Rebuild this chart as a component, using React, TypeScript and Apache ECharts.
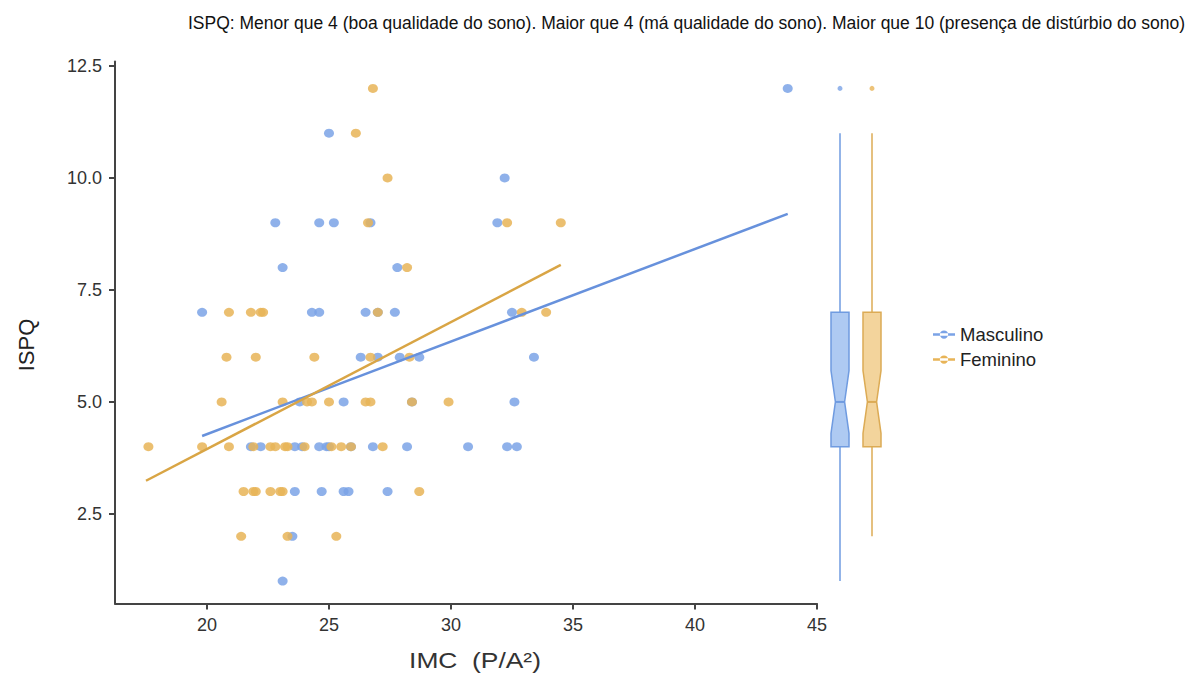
import React, { useEffect, useRef } from "react";
import * as echarts from "echarts";

const TITLE =
  "ISPQ: Menor que 4 (boa qualidade do sono). Maior que 4 (má qualidade do sono). Maior que 10 (presença de distúrbio do sono)";
const X_NAME = "IMC  (P/A²)";
const Y_NAME = "ISPQ";
const GROUPS = ["Masculino", "Feminino"];
const X_TICKS = [20, 25, 30, 35, 40, 45];
const Y_TICKS = [2.5, 5, 7.5, 10, 12.5];

// [IMC, ISPQ]
const masculino: number[][] = [
  [43.8, 12],
  [25.0, 11],
  [32.2, 10],
  [22.8, 9], [24.6, 9], [25.2, 9], [26.7, 9], [31.9, 9],
  [23.1, 8], [27.8, 8],
  [19.8, 7], [24.3, 7], [24.6, 7], [26.5, 7], [27.0, 7], [27.7, 7], [32.5, 7],
  [26.3, 6], [27.0, 6], [27.9, 6], [28.7, 6], [33.4, 6],
  [23.8, 5], [25.6, 5], [28.4, 5], [32.6, 5],
  [21.8, 4], [22.2, 4], [23.6, 4], [23.9, 4], [24.6, 4], [24.9, 4], [25.0, 4], [25.9, 4], [26.8, 4], [28.2, 4], [30.7, 4], [32.3, 4], [32.7, 4],
  [23.6, 3], [24.7, 3], [25.6, 3], [25.8, 3], [27.4, 3],
  [23.5, 2],
  [23.1, 1],
];

const feminino: number[][] = [
  [26.8, 12],
  [26.1, 11],
  [27.4, 10],
  [26.6, 9], [32.3, 9], [34.5, 9],
  [28.2, 8],
  [20.9, 7], [21.8, 7], [22.2, 7], [22.3, 7], [27.0, 7], [32.9, 7], [33.9, 7],
  [20.8, 6], [22.0, 6], [24.4, 6], [26.7, 6], [28.3, 6],
  [20.6, 5], [23.1, 5], [24.1, 5], [24.3, 5], [25.0, 5], [26.5, 5], [26.7, 5], [28.4, 5], [29.9, 5],
  [17.6, 4], [19.8, 4], [20.9, 4], [21.9, 4], [22.6, 4], [22.8, 4], [23.2, 4], [23.3, 4], [24.0, 4], [25.1, 4], [25.5, 4], [25.9, 4], [27.2, 4],
  [21.5, 3], [21.9, 3], [22.0, 3], [22.6, 3], [23.0, 3], [23.1, 3], [28.7, 3],
  [21.4, 2], [23.3, 2], [25.3, 2],
];

// regression line end points [IMC, ISPQ]
const mascTrend = [[19.8, 4.24], [43.8, 9.2]];
const femTrend = [[17.5, 3.24], [34.5, 8.06]];

// box stats: [min, Q1, median, Q3, max, notchLow, notchHigh]
const mascBox = [1, 4, 5, 7, 11, 4.3, 5.7];
const femBox = [2, 4, 5, 7, 11, 4.3, 5.7];
const mascOutliers = [12];
const femOutliers = [12];

const BLUE = "#7ba3e6";
const ORANGE = "#e8b457";
const BLUE_LINE = "#6791dc";
const ORANGE_LINE = "#d9a545";
const BLUE_FILL = "#aecaf2";
const ORANGE_FILL = "#f3d49c";
const BLUE_STROKE = "#6f9be0";
const ORANGE_STROKE = "#dcab55";

const FONT = "'Liberation Sans', Arial, sans-serif";

function boxRender(fill: string, stroke: string) {
  return (params: any, api: any) => {
    const cat = api.value(0);
    const mn = api.value(1), q1 = api.value(2), md = api.value(3), q3 = api.value(4), mx = api.value(5);
    const nLo = api.value(6), nHi = api.value(7);
    const c = api.coord([cat, md])[0];
    const y = (v: number) => api.coord([cat, v])[1];
    const w = 9;
    const n = 4.6;
    return {
      type: "group",
      children: [
        { type: "line", shape: { x1: c, y1: y(mx), x2: c, y2: y(q3) }, style: { stroke, lineWidth: 1.5 } },
        { type: "line", shape: { x1: c, y1: y(q1), x2: c, y2: y(mn) }, style: { stroke, lineWidth: 1.5 } },
        {
          type: "polygon",
          shape: {
            points: [
              [c - w, y(q3)], [c + w, y(q3)], [c + w, y(nHi)], [c + n, y(md)], [c + w, y(nLo)],
              [c + w, y(q1)], [c - w, y(q1)], [c - w, y(nLo)], [c - n, y(md)], [c - w, y(nHi)],
            ],
          },
          style: { fill, stroke, lineWidth: 1.5 },
        },
        { type: "line", shape: { x1: c - n, y1: y(md), x2: c + n, y2: y(md) }, style: { stroke, lineWidth: 2 } },
      ],
    };
  };
}

export default function App() {
  const ref = useRef<HTMLDivElement>(null);
  useEffect(() => {
    if (!ref.current) return;
    const chart = echarts.init(ref.current, undefined, { renderer: "svg" });
    const legendIcon = "path://M0,3.6H24V6.4H0Z M7.5,5A4.5,4.5 0 1,0 16.5,5A4.5,4.5 0 1,0 7.5,5Z";
    chart.setOption({
      animation: false,
      backgroundColor: "#ffffff",
      title: {
        text: TITLE,
        left: 183,
        top: 9,
        textStyle: { fontFamily: FONT, fontSize: 17.5, fontWeight: "normal", color: "#111" },
      },
      legend: {
        data: GROUPS,
        orient: "vertical",
        left: 928,
        top: 320,
        itemWidth: 22,
        itemHeight: 10,
        itemGap: 6,
        icon: legendIcon,
        itemStyle: { opacity: 1 },
        textStyle: { fontFamily: FONT, fontSize: 18.5, color: "#222" },
      },
      graphic: [
        {
          type: "text",
          x: 475,
          y: 660,
          scaleX: 1.2,
          style: {
            text: X_NAME,
            align: "center",
            verticalAlign: "middle",
            fontFamily: FONT,
            fontSize: 22,
            fill: "#333",
          },
        },
        {
          type: "text",
          x: 26,
          y: 345,
          rotation: Math.PI / 2,
          style: {
            text: Y_NAME,
            align: "center",
            verticalAlign: "middle",
            fontFamily: FONT,
            fontSize: 22,
            fill: "#222",
          },
        },
      ],
      grid: [
        { left: 115, top: 61.5, width: 702, height: 542 },
        { left: 824, top: 61.5, width: 64, height: 542 },
      ],
      xAxis: [
        {
          type: "value",
          gridIndex: 0,
          min: 16.23,
          max: 45,
          axisLine: { show: true, lineStyle: { color: "#444", width: 2 } },
          axisTick: { show: true, length: 6, customValues: X_TICKS, lineStyle: { color: "#444", width: 2 } },
          axisLabel: {
            customValues: X_TICKS,
            fontFamily: FONT,
            fontSize: 18,
            color: "#333",
            margin: 12,
          },
          splitLine: { show: false },
        },
        {
          type: "category",
          gridIndex: 1,
          data: GROUPS,
          show: false,
        },
      ],
      yAxis: [
        {
          type: "value",
          gridIndex: 0,
          min: 0.5,
          max: 12.6,
          axisLine: { show: true, lineStyle: { color: "#444", width: 2 } },
          axisTick: { show: true, length: 6, customValues: Y_TICKS, lineStyle: { color: "#444", width: 2 } },
          axisLabel: {
            customValues: Y_TICKS,
            formatter: (v: number) => v.toFixed(1),
            fontFamily: FONT,
            fontSize: 18,
            color: "#333",
            margin: 13,
          },
          splitLine: { show: false },
        },
        {
          type: "value",
          gridIndex: 1,
          min: 0.5,
          max: 12.6,
          show: false,
          splitLine: { show: false },
        },
      ],
      series: [
        {
          name: "Masculino",
          type: "scatter",
          xAxisIndex: 0,
          yAxisIndex: 0,
          data: masculino,
          symbol: "circle",
          symbolSize: [10, 9],
          color: BLUE,
          itemStyle: { color: BLUE, opacity: 0.85 },
          z: 3,
        },
        {
          name: "Feminino",
          type: "scatter",
          xAxisIndex: 0,
          yAxisIndex: 0,
          data: feminino,
          symbol: "circle",
          symbolSize: [10, 9],
          color: ORANGE,
          itemStyle: { color: ORANGE, opacity: 0.85 },
          z: 3,
        },
        {
          name: "Masculino trend",
          type: "line",
          xAxisIndex: 0,
          yAxisIndex: 0,
          data: mascTrend,
          symbol: "none",
          lineStyle: { color: BLUE_LINE, width: 2.5 },
          z: 4,
        },
        {
          name: "Feminino trend",
          type: "line",
          xAxisIndex: 0,
          yAxisIndex: 0,
          data: femTrend,
          symbol: "none",
          lineStyle: { color: ORANGE_LINE, width: 2.5 },
          z: 4,
        },
        {
          name: "Masculino box",
          type: "custom",
          xAxisIndex: 1,
          yAxisIndex: 1,
          renderItem: boxRender(BLUE_FILL, BLUE_STROKE),
          data: [[0, ...mascBox]],
          encode: { x: 0, y: [1, 2, 3, 4, 5] },
          z: 3,
        },
        {
          name: "Feminino box",
          type: "custom",
          xAxisIndex: 1,
          yAxisIndex: 1,
          renderItem: boxRender(ORANGE_FILL, ORANGE_STROKE),
          data: [[1, ...femBox]],
          encode: { x: 0, y: [1, 2, 3, 4, 5] },
          z: 3,
        },
        {
          name: "Masculino outliers",
          type: "scatter",
          xAxisIndex: 1,
          yAxisIndex: 1,
          data: mascOutliers.map((v) => [0, v]),
          symbolSize: 5,
          itemStyle: { color: BLUE },
        },
        {
          name: "Feminino outliers",
          type: "scatter",
          xAxisIndex: 1,
          yAxisIndex: 1,
          data: femOutliers.map((v) => [1, v]),
          symbolSize: 5,
          itemStyle: { color: ORANGE },
        },
      ],
    });
    return () => chart.dispose();
  }, []);
  return (
    <div
      ref={ref}
      style={{ position: "absolute", left: 0, top: 0, width: 1192, height: 673 }}
    />
  );
}
